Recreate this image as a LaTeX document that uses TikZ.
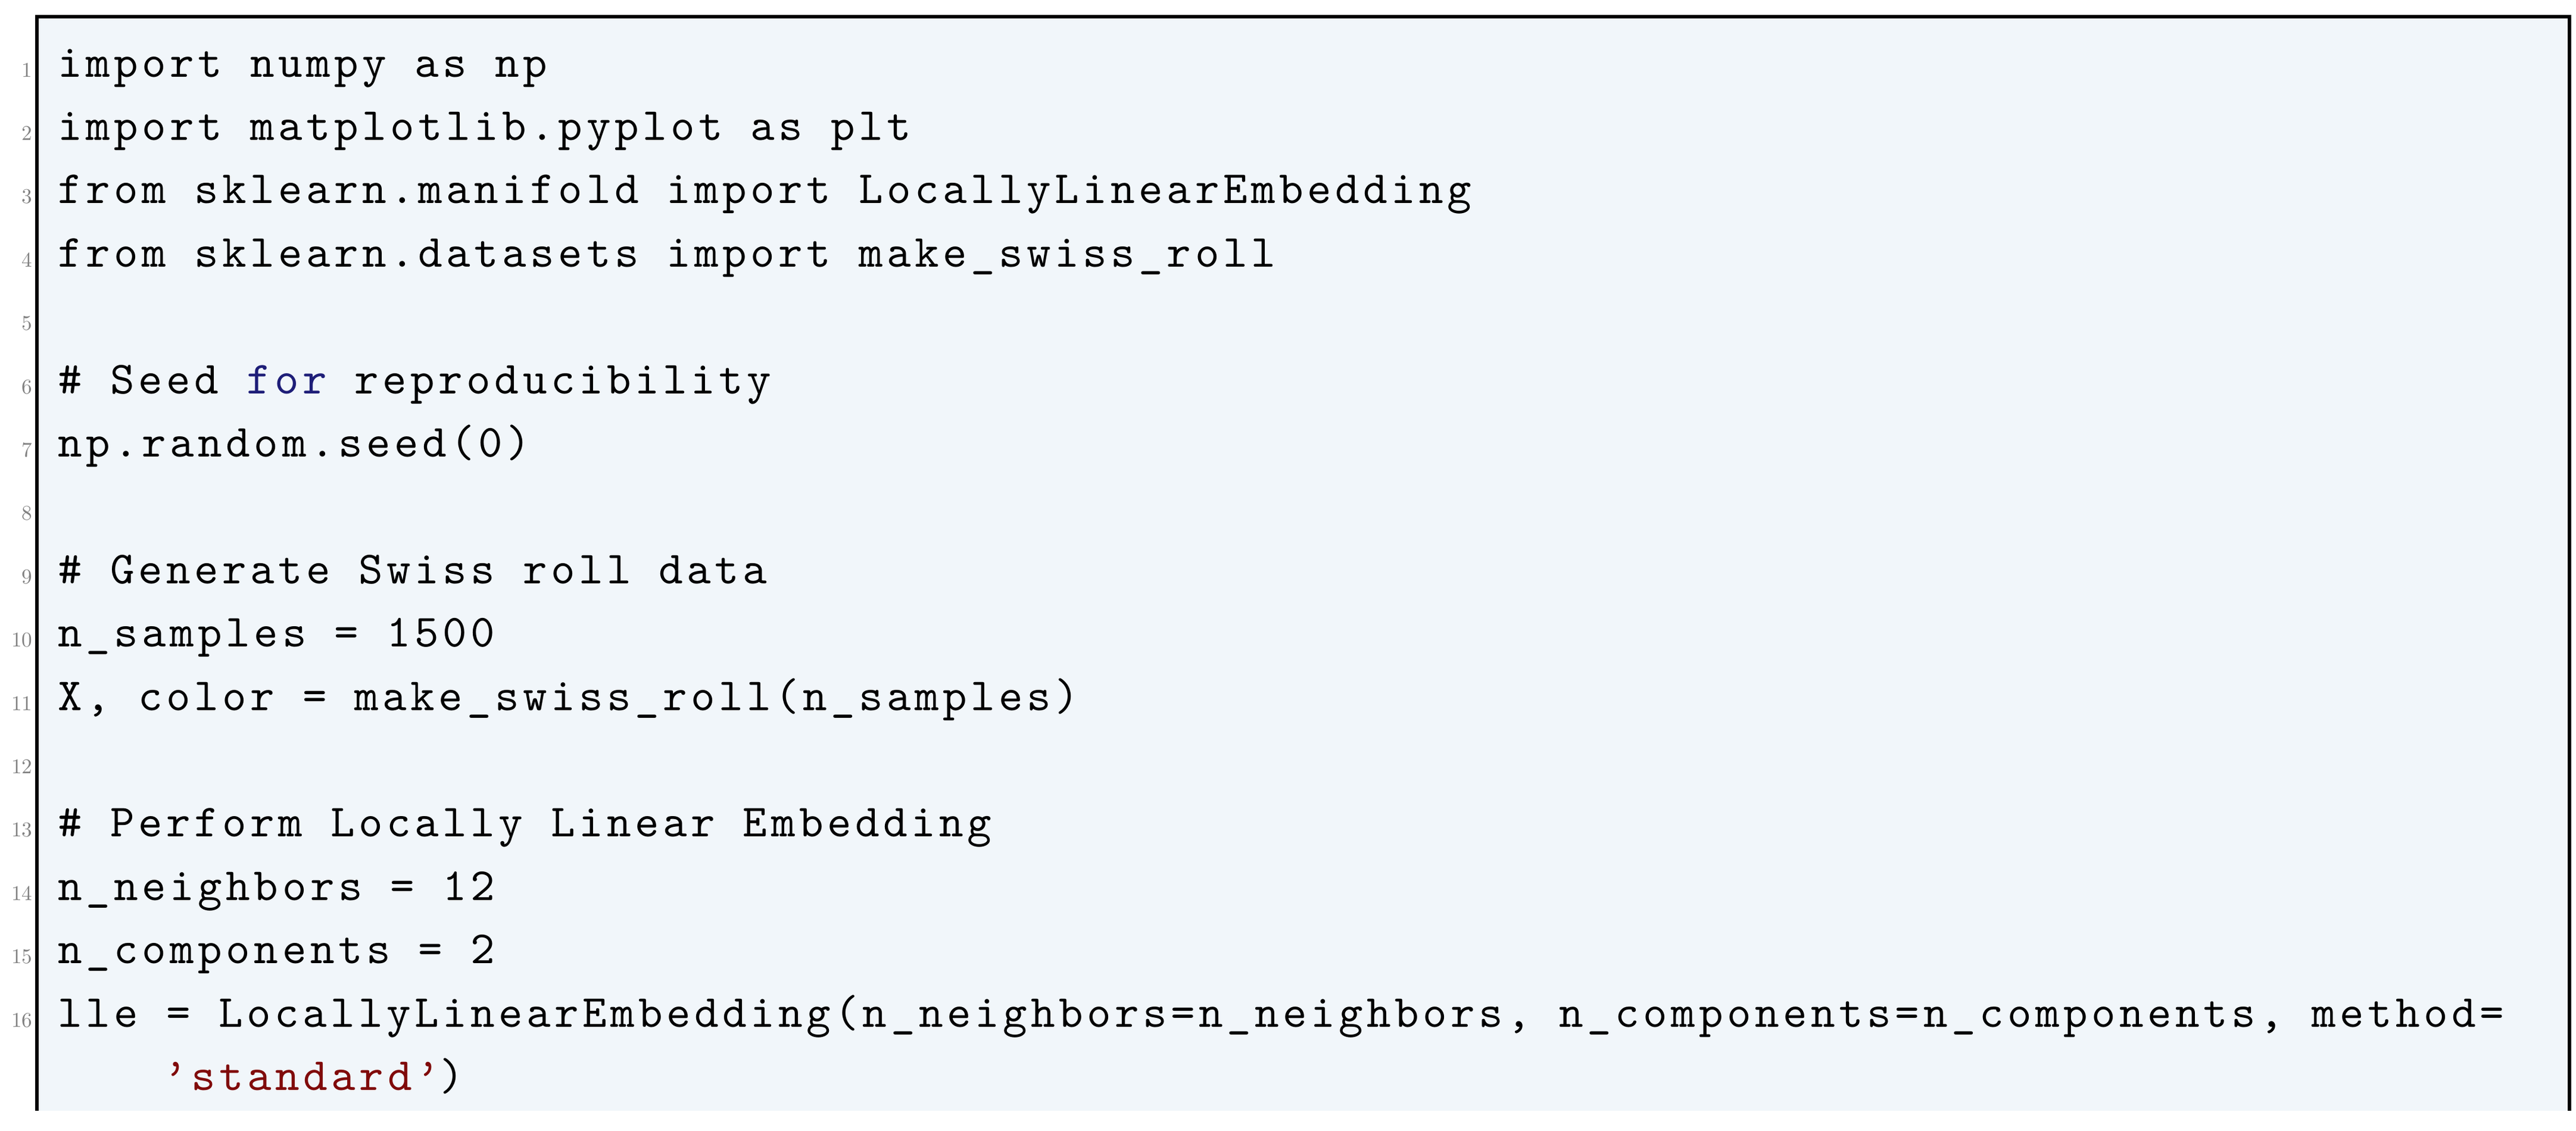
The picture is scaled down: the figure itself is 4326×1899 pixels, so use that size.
\documentclass[tikz,border=0pt]{standalone}
\usepackage{fontspec}
\usepackage{tikz}
\usetikzlibrary{positioning}
\newfontfamily\codefont{lmmono10-regular.otf}[LetterSpace=8.3]
\definecolor{codebg}{RGB}{241,246,250}
\definecolor{kwblue}{RGB}{30,30,120}
\definecolor{strred}{RGB}{128,10,10}
\tikzset{codeline/.style={anchor=base west,inner sep=0pt,font=\fontsize{22}{26}\selectfont\codefont},
  lineno/.style={anchor=base east,inner sep=0pt,text=gray,font=\fontsize{10}{12}\selectfont}}
\newcommand{\lnbase}[1]{129+(#1-1)*106.4}
\begin{document}
\begin{tikzpicture}[x=0.01cm,y=-0.01cm]
\useasboundingbox (0,0) rectangle (4326,1899);
\fill[codebg] (62,28) rectangle (4315,1866);
\draw[line width=1.6pt] (62,1866) -- (62,28) -- (4315,28) -- (4315,1866);
\foreach \n in {1,...,16}
  \node[lineno] (num\n) at (55,{\lnbase{\n}}) {\n};
\node[codeline] (l1) at (97,{\lnbase{1}}) {import numpy as np};
\node[codeline] (l2) at (97,{\lnbase{2}}) {import matplotlib.pyplot as plt};
\node[codeline] (l3) at (97,{\lnbase{3}}) {from sklearn.manifold import LocallyLinearEmbedding};
\node[codeline] (l4) at (97,{\lnbase{4}}) {from sklearn.datasets import make\_swiss\_roll};
\node[codeline] (l6) at (97,{\lnbase{6}}) {\# Seed \textcolor{kwblue}{for} reproducibility};
\node[codeline] (l7) at (97,{\lnbase{7}}) {np.random.seed(0)};
\node[codeline] (l9) at (97,{\lnbase{9}}) {\# Generate Swiss roll data};
\node[codeline] (l10) at (97,{\lnbase{10}}) {n\_samples = 1500};
\node[codeline] (l11) at (97,{\lnbase{11}}) {X, color = make\_swiss\_roll(n\_samples)};
\node[codeline] (l13) at (97,{\lnbase{13}}) {\# Perform Locally Linear Embedding};
\node[codeline] (l14) at (97,{\lnbase{14}}) {n\_neighbors = 12};
\node[codeline] (l15) at (97,{\lnbase{15}}) {n\_components = 2};
\node[codeline] (l16) at (97,{\lnbase{16}}) {lle = LocallyLinearEmbedding(n\_neighbors=n\_neighbors, n\_components=n\_components, method=};
\node[codeline] (l16b) at (274,{\lnbase{17}}) {\textcolor{strred}{’standard’})};
\end{tikzpicture}
\end{document}
